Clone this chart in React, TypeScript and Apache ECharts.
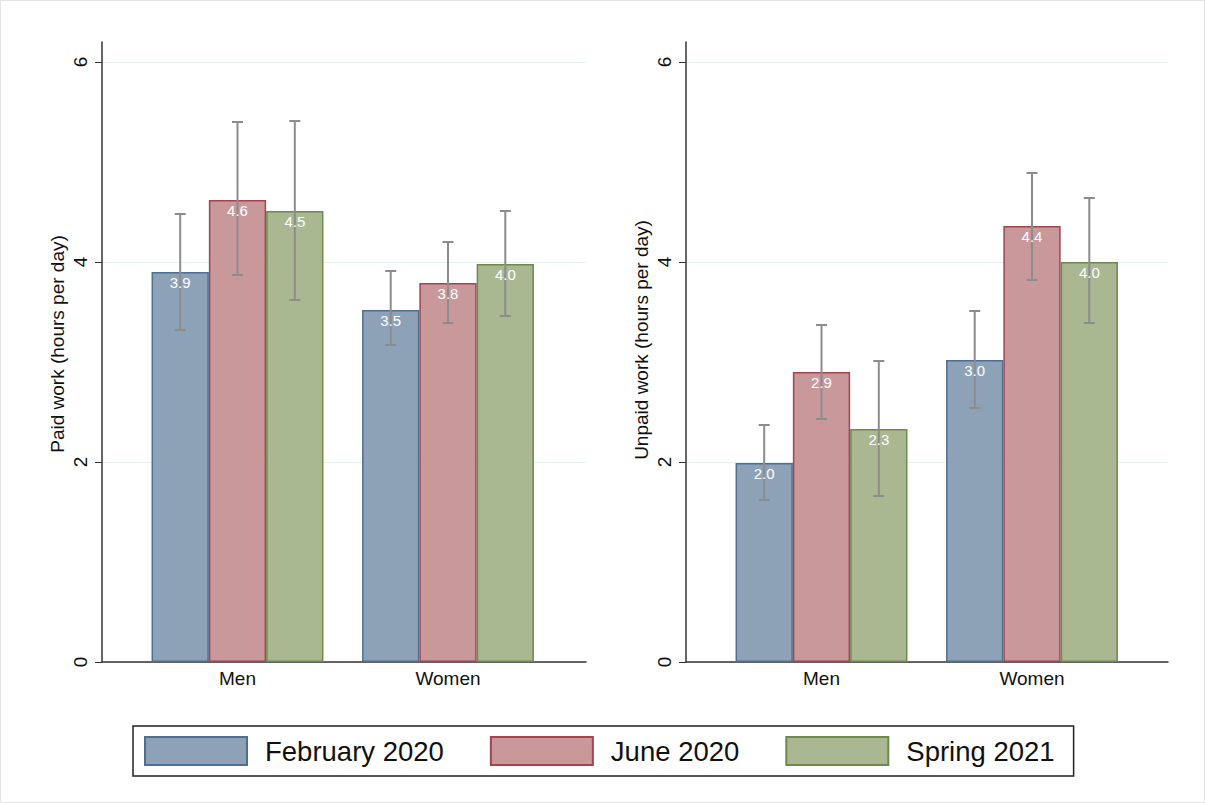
import React, { useEffect, useRef } from "react";
import * as echarts from "echarts";

const categories = ["Men", "Women"];
const seriesNames = ["February 2020", "June 2020", "Spring 2021"];
const paidValues = [[3.9, 3.52], [4.62, 3.79], [4.51, 3.98]];
const paidLow = [[3.32, 3.17], [3.87, 3.39], [3.62, 3.46]];
const paidHigh = [[4.48, 3.91], [5.4, 4.2], [5.41, 4.51]];
const unpaidValues = [[1.99, 3.02], [2.9, 4.36], [2.33, 4.0]];
const unpaidLow = [[1.62, 2.54], [2.43, 3.82], [1.66, 3.39]];
const unpaidHigh = [[2.37, 3.51], [3.37, 4.89], [3.01, 4.64]];
const yTickValues = [0, 2, 4, 6];

const FILLS = ["#8DA2B7", "#C8989B", "#AAB892"];
const BORDERS = ["#4E6F8F", "#A3444F", "#6B8A4B"];
const BW = 57.3;
const FONT = "Arial, 'Liberation Sans', sans-serif";

export default function App() {
  const ref = useRef<HTMLDivElement>(null);
  useEffect(() => {
    const chart = echarts.init(ref.current!, null, { renderer: "svg" });
    const panels = [
      { name: "Paid work (hours per day)", vals: paidValues, lo: paidLow, hi: paidHigh, left: 101, width: 484, shift: 16 },
      { name: "Unpaid work (hours per day)", vals: unpaidValues, lo: unpaidLow, hi: unpaidHigh, left: 685, width: 482, shift: 24 },
    ];
    const grids: any[] = [];
    const xAxes: any[] = [];
    const yAxes: any[] = [];
    const series: any[] = [];
    panels.forEach((p, pi) => {
      grids.push({ left: p.left, top: 41, width: p.width, height: 620 });
      const span = p.width / 210.5;
      const min = 1 - 135.5 / 210.5;
      xAxes.push({
        type: "value",
        gridIndex: pi,
        min,
        max: min + span,
        axisLine: { show: true, onZero: false, lineStyle: { color: "#333", width: 1.5 } },
        axisTick: { show: false },
        splitLine: { show: false },
        axisLabel: {
          customValues: [1, 2],
          formatter: (v: number) => categories[Math.round(v) - 1] ?? "",
          color: "#111",
          fontSize: 19,
          fontFamily: FONT,
          margin: 7,
        },
      });
      yAxes.push({
        type: "value",
        gridIndex: pi,
        min: 0,
        max: 6.2,
        interval: 2,
        name: p.name,
        nameLocation: "middle",
        nameGap: 35,
        nameTextStyle: { color: "#111", fontSize: 19, fontFamily: FONT, padding: [0, 0, 0, p.shift] },
        axisLine: { show: true, lineStyle: { color: "#333", width: 1.5 } },
        axisTick: { show: true, length: 7, lineStyle: { color: "#333" }, customValues: yTickValues },
        axisLabel: {
          customValues: yTickValues,
          rotate: 90,
          color: "#111",
          fontSize: 19,
          fontFamily: FONT,
          margin: 12,
        },
        splitLine: { show: true, lineStyle: { color: "#E6EEF1", width: 1 } },
      });
      p.vals.forEach((arr, si) => {
        series.push({
          type: "bar",
          name: seriesNames[si],
          xAxisIndex: pi,
          yAxisIndex: pi,
          barWidth: BW,
          barGap: "0%",
          data: arr.map((v, ci) => [ci + 1, v]),
          itemStyle: { color: FILLS[si], borderColor: BORDERS[si], borderWidth: 1.5 },
          z: 2,
        });
      });
      const errData: number[][] = [];
      p.vals.forEach((arr, si) => {
        categories.forEach((_c, ci) => {
          errData.push([ci + 1, p.lo[si][ci], p.hi[si][ci], si, arr[ci]]);
        });
      });
      series.push({
        type: "custom",
        xAxisIndex: pi,
        yAxisIndex: pi,
        data: errData,
        z: 3,
        silent: true,
        renderItem: (_params: any, api: any) => {
          const x = api.value(0);
          const s = api.value(3);
          const v = api.value(4);
          const top = api.coord([x, api.value(2)]);
          const bot = api.coord([x, api.value(1)]);
          const barTop = api.coord([x, v]);
          const cx = top[0] + (s - 1) * BW;
          const half = 5.5;
          const style = { stroke: "#8C8C8C", lineWidth: 2 };
          return {
            type: "group",
            children: [
              { type: "line", shape: { x1: cx, y1: top[1], x2: cx, y2: bot[1] }, style },
              { type: "line", shape: { x1: cx - half, y1: top[1], x2: cx + half, y2: top[1] }, style },
              { type: "line", shape: { x1: cx - half, y1: bot[1], x2: cx + half, y2: bot[1] }, style },
              {
                type: "text",
                x: cx,
                y: barTop[1] + 3,
                style: {
                  text: v.toFixed(1),
                  fill: "#fff",
                  align: "center",
                  verticalAlign: "top",
                  fontSize: 15,
                  fontFamily: FONT,
                },
              },
            ],
          };
        },
      });
    });
    chart.setOption({
      animation: false,
      backgroundColor: "#fff",
      grid: grids,
      xAxis: xAxes,
      yAxis: yAxes,
      legend: {
        data: seriesNames,
        left: 132,
        top: 725,
        orient: "horizontal",
        icon: "rect",
        itemWidth: 102,
        itemHeight: 28,
        itemGap: 46,
        padding: [10, 19, 10, 11],
        borderColor: "#222",
        borderWidth: 1.5,
        selectedMode: false,
        textStyle: { fontSize: 27.5, color: "#111", fontFamily: FONT, padding: [0, 0, 0, 13] },
      },
      series,
    });
    return () => chart.dispose();
  }, []);
  return (
    <div
      style={{
        position: "absolute",
        left: 0,
        top: 0,
        width: 1205,
        height: 803,
        border: "1px solid #E4E4E4",
        boxSizing: "border-box",
        background: "#fff",
      }}
    >
      <div ref={ref} style={{ width: 1203, height: 801 }} />
    </div>
  );
}
